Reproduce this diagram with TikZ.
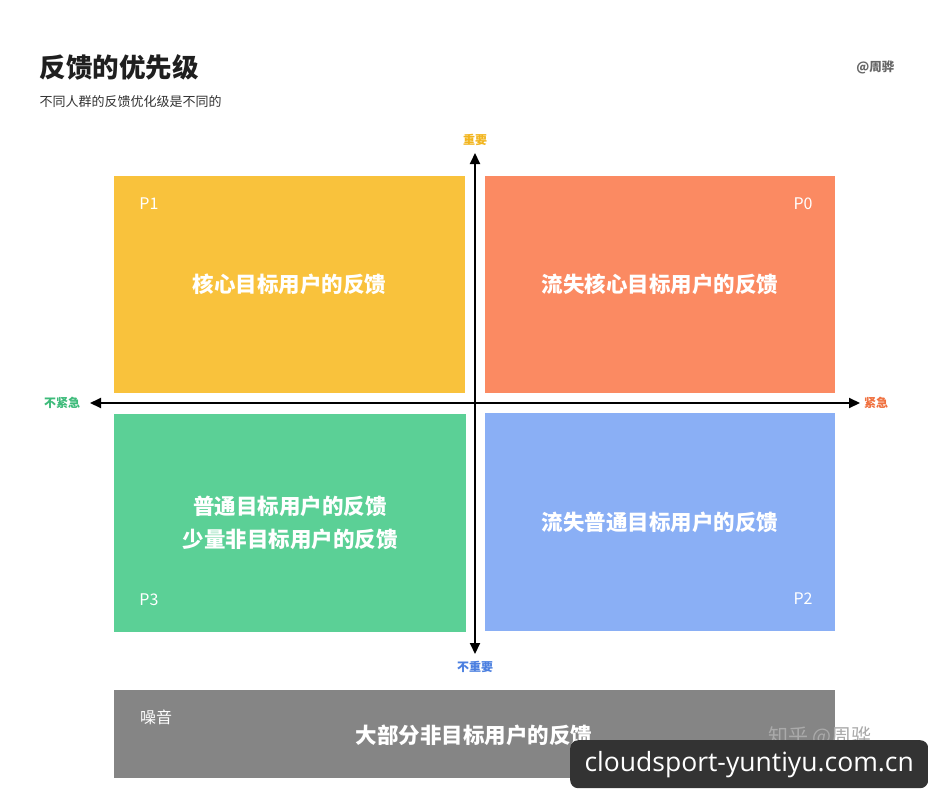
\documentclass[tikz,border=0pt]{standalone}
\usepackage{fontspec}
\setmainfont{Noto Sans CJK SC}
\newfontfamily\wmfont{Open Sans}
\usetikzlibrary{arrows.meta}
\definecolor{cyel}{HTML}{F9C23C}
\definecolor{cora}{HTML}{FB8A62}
\definecolor{cgrn}{HTML}{5BD096}
\definecolor{cblu}{HTML}{8AAFF5}
\definecolor{cgry}{HTML}{858585}
\definecolor{tyel}{HTML}{F2B51E}
\definecolor{tora}{HTML}{F0703E}
\definecolor{tgrn}{HTML}{3DBB7A}
\definecolor{tblu}{HTML}{4B7FE0}
\definecolor{wmbg}{HTML}{333333}
\tikzset{
  quad/.style={fill=#1, draw=none, inner sep=0pt, anchor=north west},
  qtext/.style={text=white, font=\fontsize{21.5}{33}\selectfont\bfseries, align=center},
  plabel/.style={text=white, font=\fontsize{16}{19}\selectfont},
  axlabel/.style={text=#1, font=\fontsize{12}{14}\selectfont\bfseries},
  axis/.style={line width=2pt, -{Triangle[length=11pt,width=10pt]}},
}
\begin{document}
\begin{tikzpicture}[x=1pt,y=-1pt]
\useasboundingbox[fill=white] (0,0) rectangle (928,800);
% title
\node[anchor=west, font=\fontsize{26.5}{30}\selectfont\bfseries, text=black!88] (title) at (36,67) {反馈的优先级};
\node[anchor=west, font=\fontsize{13}{15}\selectfont, text=black!80] (sub) at (36,102) {不同人群的反馈优化级是不同的};
\node[anchor=east, font=\fontsize{12.5}{14}\selectfont\bfseries, text=black!60] (auth) at (898,67) {@周骅};
% quadrants
\node[quad=cyel, minimum width=351pt, minimum height=217pt] (q1) at (114,176) {};
\node[quad=cora, minimum width=350pt, minimum height=217pt] (q0) at (485,176) {};
\node[quad=cgrn, minimum width=352pt, minimum height=218pt] (q3) at (114,414) {};
\node[quad=cblu, minimum width=350pt, minimum height=218pt] (q2) at (485,413) {};
\node[qtext] (t1) at (q1.center) {核心目标用户的反馈};
\node[qtext] (t0) at (q0.center) {流失核心目标用户的反馈};
\node[qtext] (t3) at (290,523) {普通目标用户的反馈\\少量非目标用户的反馈};
\node[qtext] (t2) at (q2.center) {流失普通目标用户的反馈};
\node[plabel] (p1) at (149,204) {P1};
\node[plabel] (p0) at (803,204) {P0};
\node[plabel] (p3) at (149,600) {P3};
\node[plabel] (p2) at (803,599) {P2};
% axes
\coordinate (vtop) at (475,153);
\coordinate (vbot) at (475,654);
\coordinate (hl) at (90,403);
\coordinate (hr) at (860,403);
\coordinate (ctr) at (475,403);
\draw[axis] (ctr) -- (vtop);
\draw[axis] (ctr) -- (vbot);
\draw[axis] (ctr) -- (hl);
\draw[axis] (ctr) -- (hr);
\node[axlabel=tyel] (imp) at (475,140) {重要};
\node[axlabel=tblu] (nimp) at (475,667) {不重要};
\node[axlabel=tgrn] (nurg) at (62,403) {不紧急};
\node[axlabel=tora] (urg) at (876,403) {紧急};
% noise
\node[quad=cgry, minimum width=721pt, minimum height=88pt] (noise) at (114,690) {};
\node[plabel] (nl) at (156,717) {噪音};
\node[qtext] (nt) at (474,735) {大部分非目标用户的反馈};
\node[text=white!30!cgry, font=\fontsize{20}{24}\selectfont, anchor=south] (zh) at (820,750) {知乎 @周骅};
% watermark
\node[fill=wmbg, rounded corners=8pt, anchor=north west, minimum width=358pt, minimum height=48pt, inner sep=0pt] (wm) at (570,740) {};
\node[text=white, font=\wmfont\fontsize{26.5}{30}\selectfont] (wmt) at (wm.center) {cloudsport-yuntiyu.com.cn};
\end{tikzpicture}
\end{document}
